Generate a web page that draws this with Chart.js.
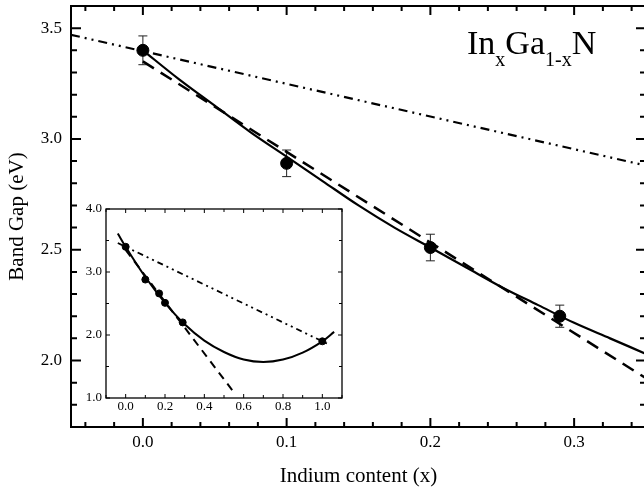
<!DOCTYPE html>
<html>
<head>
<meta charset="utf-8">
<script src="https://cdn.jsdelivr.net/npm/chart.js@4"></script>
<style>
  html, body { margin: 0; padding: 0; background: #fff; overflow: hidden; }
  #wrap { position: relative; width: 644px; height: 491px; overflow: hidden; }
  #main { position: absolute; left: 0; top: 0; }
  #inset { position: absolute; left: 80px; top: 200px; }
  #label {
    position: absolute; left: 467px; top: 26px; color: #000; white-space: nowrap;
    font: 34px "Liberation Serif", "Times New Roman", serif; line-height: 34px;
  }
  #label span { font-size: 20px; position: relative; top: 12px; }
</style>
</head>
<body>
<div id="wrap">
  <canvas id="main" width="648" height="491"></canvas>
  <canvas id="inset" width="268" height="220"></canvas>
  <div id="label">In<span>x</span>Ga<span>1-x</span>N</div>
</div>
<script>
// measured band gaps with error bars
const sampleX = [0.0, 0.1, 0.2, 0.29];
const sampleGap = [3.40, 2.89, 2.51, 2.20];
const sampleErr = [0.065, 0.06, 0.06, 0.05];

// bowing fit (solid line)
const fitX = [0, 0.025, 0.05, 0.075, 0.1, 0.125, 0.15, 0.175, 0.2, 0.225, 0.25, 0.275, 0.3, 0.325, 0.35];
const fitGap = [3.40, 3.27, 3.15, 3.03, 2.92, 2.81, 2.70, 2.60, 2.51, 2.42, 2.33, 2.25, 2.17, 2.10, 2.03];

// linear fit (dashed)
const linX = [0, 0.35];
const linGap = [3.35, 1.92];

// Vegard's law (dash-dot)
const vegardX = [-0.05, 0.35];
const vegardGap = [3.47, 2.88];

// inset, full composition range
const insetPointX = [0.0, 0.1, 0.17, 0.2, 0.29, 1.0];
const insetPointGap = [3.40, 2.88, 2.66, 2.51, 2.20, 1.90];
const insetFitX = [-0.04, 0, 0.1, 0.2, 0.3, 0.4, 0.5, 0.6, 0.7, 0.8, 0.9, 1.0, 1.06];
const insetFitGap = [3.61, 3.40, 2.92, 2.51, 2.17, 1.91, 1.73, 1.61, 1.57, 1.61, 1.72, 1.90, 2.05];
const insetLinX = [0, 0.56];
const insetLinGap = [3.35, 1.05];
const insetVegardX = [-0.04, 1.03];
const insetVegardGap = [3.46, 1.855];

// tick labels
const xMajor = [0.0, 0.1, 0.2, 0.3];
const yMajor = [2.0, 2.5, 3.0, 3.5];
const insetXMajor = [0.0, 0.2, 0.4, 0.6, 0.8, 1.0];
const insetYMajor = [1.0, 2.0, 3.0, 4.0];

const serif = '"Liberation Serif", "Times New Roman", serif';
Chart.defaults.font.family = serif;
Chart.defaults.color = '#000';

function pts(xs, ys) {
  return xs.map((x, i) => ({ x: x, y: ys[i] }));
}

function stepsBetween(min, max, step) {
  const out = [];
  for (let i = Math.ceil(min / step - 1e-9); i * step <= max + 1e-9; i++) out.push(i * step);
  return out;
}

function isMajor(v, step) {
  return Math.abs(v / step - Math.round(v / step)) < 1e-6;
}

function zeroPad(s) {
  s.paddingLeft = 0; s.paddingRight = 0; s.paddingTop = 0; s.paddingBottom = 0;
}

// box round the plot with inward ticks on all four sides
function frameTicks(c) {
  return {
    id: 'frameTicks',
    beforeDraw(chart) {
      if (!c.fill) return;
      const a = chart.chartArea;
      chart.ctx.save();
      chart.ctx.fillStyle = '#fff';
      chart.ctx.fillRect(a.left, a.top, a.right - a.left, a.bottom - a.top);
      chart.ctx.restore();
    },
    afterDraw(chart) {
      const ctx = chart.ctx;
      const a = chart.chartArea;
      const x = chart.scales.x, y = chart.scales.y;
      ctx.save();
      ctx.strokeStyle = '#000';
      ctx.lineWidth = c.tickWidth;
      ctx.beginPath();
      stepsBetween(x.min, x.max, c.xMinor).forEach(v => {
        const px = x.getPixelForValue(v);
        const len = isMajor(v, c.xMajor) ? c.xMajorLen : c.xMinorLen;
        ctx.moveTo(px, a.bottom); ctx.lineTo(px, a.bottom - len);
        ctx.moveTo(px, a.top); ctx.lineTo(px, a.top + len);
      });
      stepsBetween(y.min, y.max, c.yMinor).forEach(v => {
        const py = y.getPixelForValue(v);
        const len = isMajor(v, c.yMajor) ? c.yMajorLen : c.yMinorLen;
        ctx.moveTo(a.left, py); ctx.lineTo(a.left + len, py);
        ctx.moveTo(a.right, py); ctx.lineTo(a.right - len, py);
      });
      ctx.stroke();
      ctx.lineWidth = c.frameWidth;
      ctx.strokeRect(a.left, a.top, a.right - a.left, a.bottom - a.top);
      ctx.restore();
    }
  };
}

const errorBars = {
  id: 'errorBars',
  beforeDatasetsDraw(chart) {
    const ctx = chart.ctx;
    const x = chart.scales.x, y = chart.scales.y;
    ctx.save();
    ctx.strokeStyle = '#222';
    ctx.lineWidth = 1;
    ctx.beginPath();
    sampleX.forEach((v, i) => {
      const px = x.getPixelForValue(v);
      const top = y.getPixelForValue(sampleGap[i] + sampleErr[i]);
      const bot = y.getPixelForValue(sampleGap[i] - sampleErr[i]);
      ctx.moveTo(px, top); ctx.lineTo(px, bot);
      ctx.moveTo(px - 4.5, top); ctx.lineTo(px + 4.5, top);
      ctx.moveTo(px - 4.5, bot); ctx.lineTo(px + 4.5, bot);
    });
    ctx.stroke();
    ctx.restore();
  }
};

// main panel
new Chart(document.getElementById('main'), {
  type: 'scatter',
  data: {
    datasets: [
      {
        type: 'line', data: pts(vegardX, vegardGap), borderColor: '#000', borderWidth: 2.2,
        borderDash: [9, 5, 2, 5, 2, 5], pointRadius: 0
      },
      {
        type: 'line', data: pts(linX, linGap), borderColor: '#000', borderWidth: 2.5,
        borderDash: [13, 8], pointRadius: 0
      },
      {
        type: 'line', data: pts(fitX, fitGap), borderColor: '#000', borderWidth: 2.2,
        cubicInterpolationMode: 'monotone', pointRadius: 0
      },
      {
        data: pts(sampleX, sampleGap), backgroundColor: '#000', borderColor: '#000',
        pointRadius: 6, showLine: false
      }
    ]
  },
  options: {
    responsive: false,
    animation: false,
    events: [],
    layout: { autoPadding: false, padding: { top: 6, right: 2, left: 0, bottom: 0 } },
    plugins: { legend: { display: false }, tooltip: { enabled: false } },
    scales: {
      x: {
        type: 'linear', min: -0.05, max: 0.35,
        grid: { display: false, drawTicks: false }, border: { display: false },
        ticks: { padding: 5, font: { size: 17 }, callback: v => v.toFixed(1) },
        afterBuildTicks: s => { s.ticks = xMajor.map(v => ({ value: v })); },
        afterFit: s => { s.height = 64; zeroPad(s); },
        title: {
          display: true, text: 'Indium content (x)', font: { size: 21 },
          padding: { top: 0, bottom: 2 }
        }
      },
      y: {
        type: 'linear', min: 1.7, max: 3.6,
        grid: { display: false, drawTicks: false }, border: { display: false },
        ticks: { padding: 9, font: { size: 17 }, callback: v => v.toFixed(1) },
        afterBuildTicks: s => { s.ticks = yMajor.map(v => ({ value: v })); },
        afterFit: s => { s.width = 71; zeroPad(s); },
        title: {
          display: true, text: 'Band Gap (eV)', font: { size: 21 },
          padding: { top: 5, bottom: 0 }
        }
      }
    }
  },
  plugins: [
    frameTicks({
      fill: false, tickWidth: 2, frameWidth: 2,
      xMinor: 0.02, xMajor: 0.1, xMajorLen: 9, xMinorLen: 5,
      yMinor: 0.1, yMajor: 0.5, yMajorLen: 10, yMinorLen: 6
    }),
    errorBars
  ]
});

// inset panel
new Chart(document.getElementById('inset'), {
  type: 'scatter',
  data: {
    datasets: [
      {
        type: 'line', data: pts(insetVegardX, insetVegardGap), borderColor: '#000', borderWidth: 1.8,
        borderDash: [6, 4, 2, 4, 2, 4], pointRadius: 0
      },
      {
        type: 'line', data: pts(insetLinX, insetLinGap), borderColor: '#000', borderWidth: 2,
        borderDash: [8, 6], pointRadius: 0
      },
      {
        type: 'line', data: pts(insetFitX, insetFitGap), borderColor: '#000', borderWidth: 2,
        tension: 0.4, pointRadius: 0
      },
      {
        data: pts(insetPointX, insetPointGap), backgroundColor: '#000', borderColor: '#000',
        pointRadius: 3.5, showLine: false
      }
    ]
  },
  options: {
    responsive: false,
    animation: false,
    events: [],
    layout: { autoPadding: false, padding: { top: 9, right: 6, left: 0, bottom: 0 } },
    plugins: { legend: { display: false }, tooltip: { enabled: false } },
    scales: {
      x: {
        type: 'linear', min: -0.1, max: 1.1,
        grid: { display: false, drawTicks: false }, border: { display: false },
        ticks: { padding: 1, font: { size: 13 }, callback: v => v.toFixed(1) },
        afterBuildTicks: s => { s.ticks = insetXMajor.map(v => ({ value: v })); },
        afterFit: s => { s.height = 22; zeroPad(s); }
      },
      y: {
        type: 'linear', min: 1.0, max: 4.0,
        grid: { display: false, drawTicks: false }, border: { display: false },
        ticks: { padding: 4, font: { size: 13 }, callback: v => v.toFixed(1) },
        afterBuildTicks: s => { s.ticks = insetYMajor.map(v => ({ value: v })); },
        afterFit: s => { s.width = 26; zeroPad(s); }
      }
    }
  },
  plugins: [
    frameTicks({
      fill: true, tickWidth: 1, frameWidth: 1.3,
      xMinor: 0.1, xMajor: 0.2, xMajorLen: 4, xMinorLen: 3,
      yMinor: 0.5, yMajor: 1.0, yMajorLen: 4, yMinorLen: 3
    })
  ]
});
</script>
</body>
</html>
